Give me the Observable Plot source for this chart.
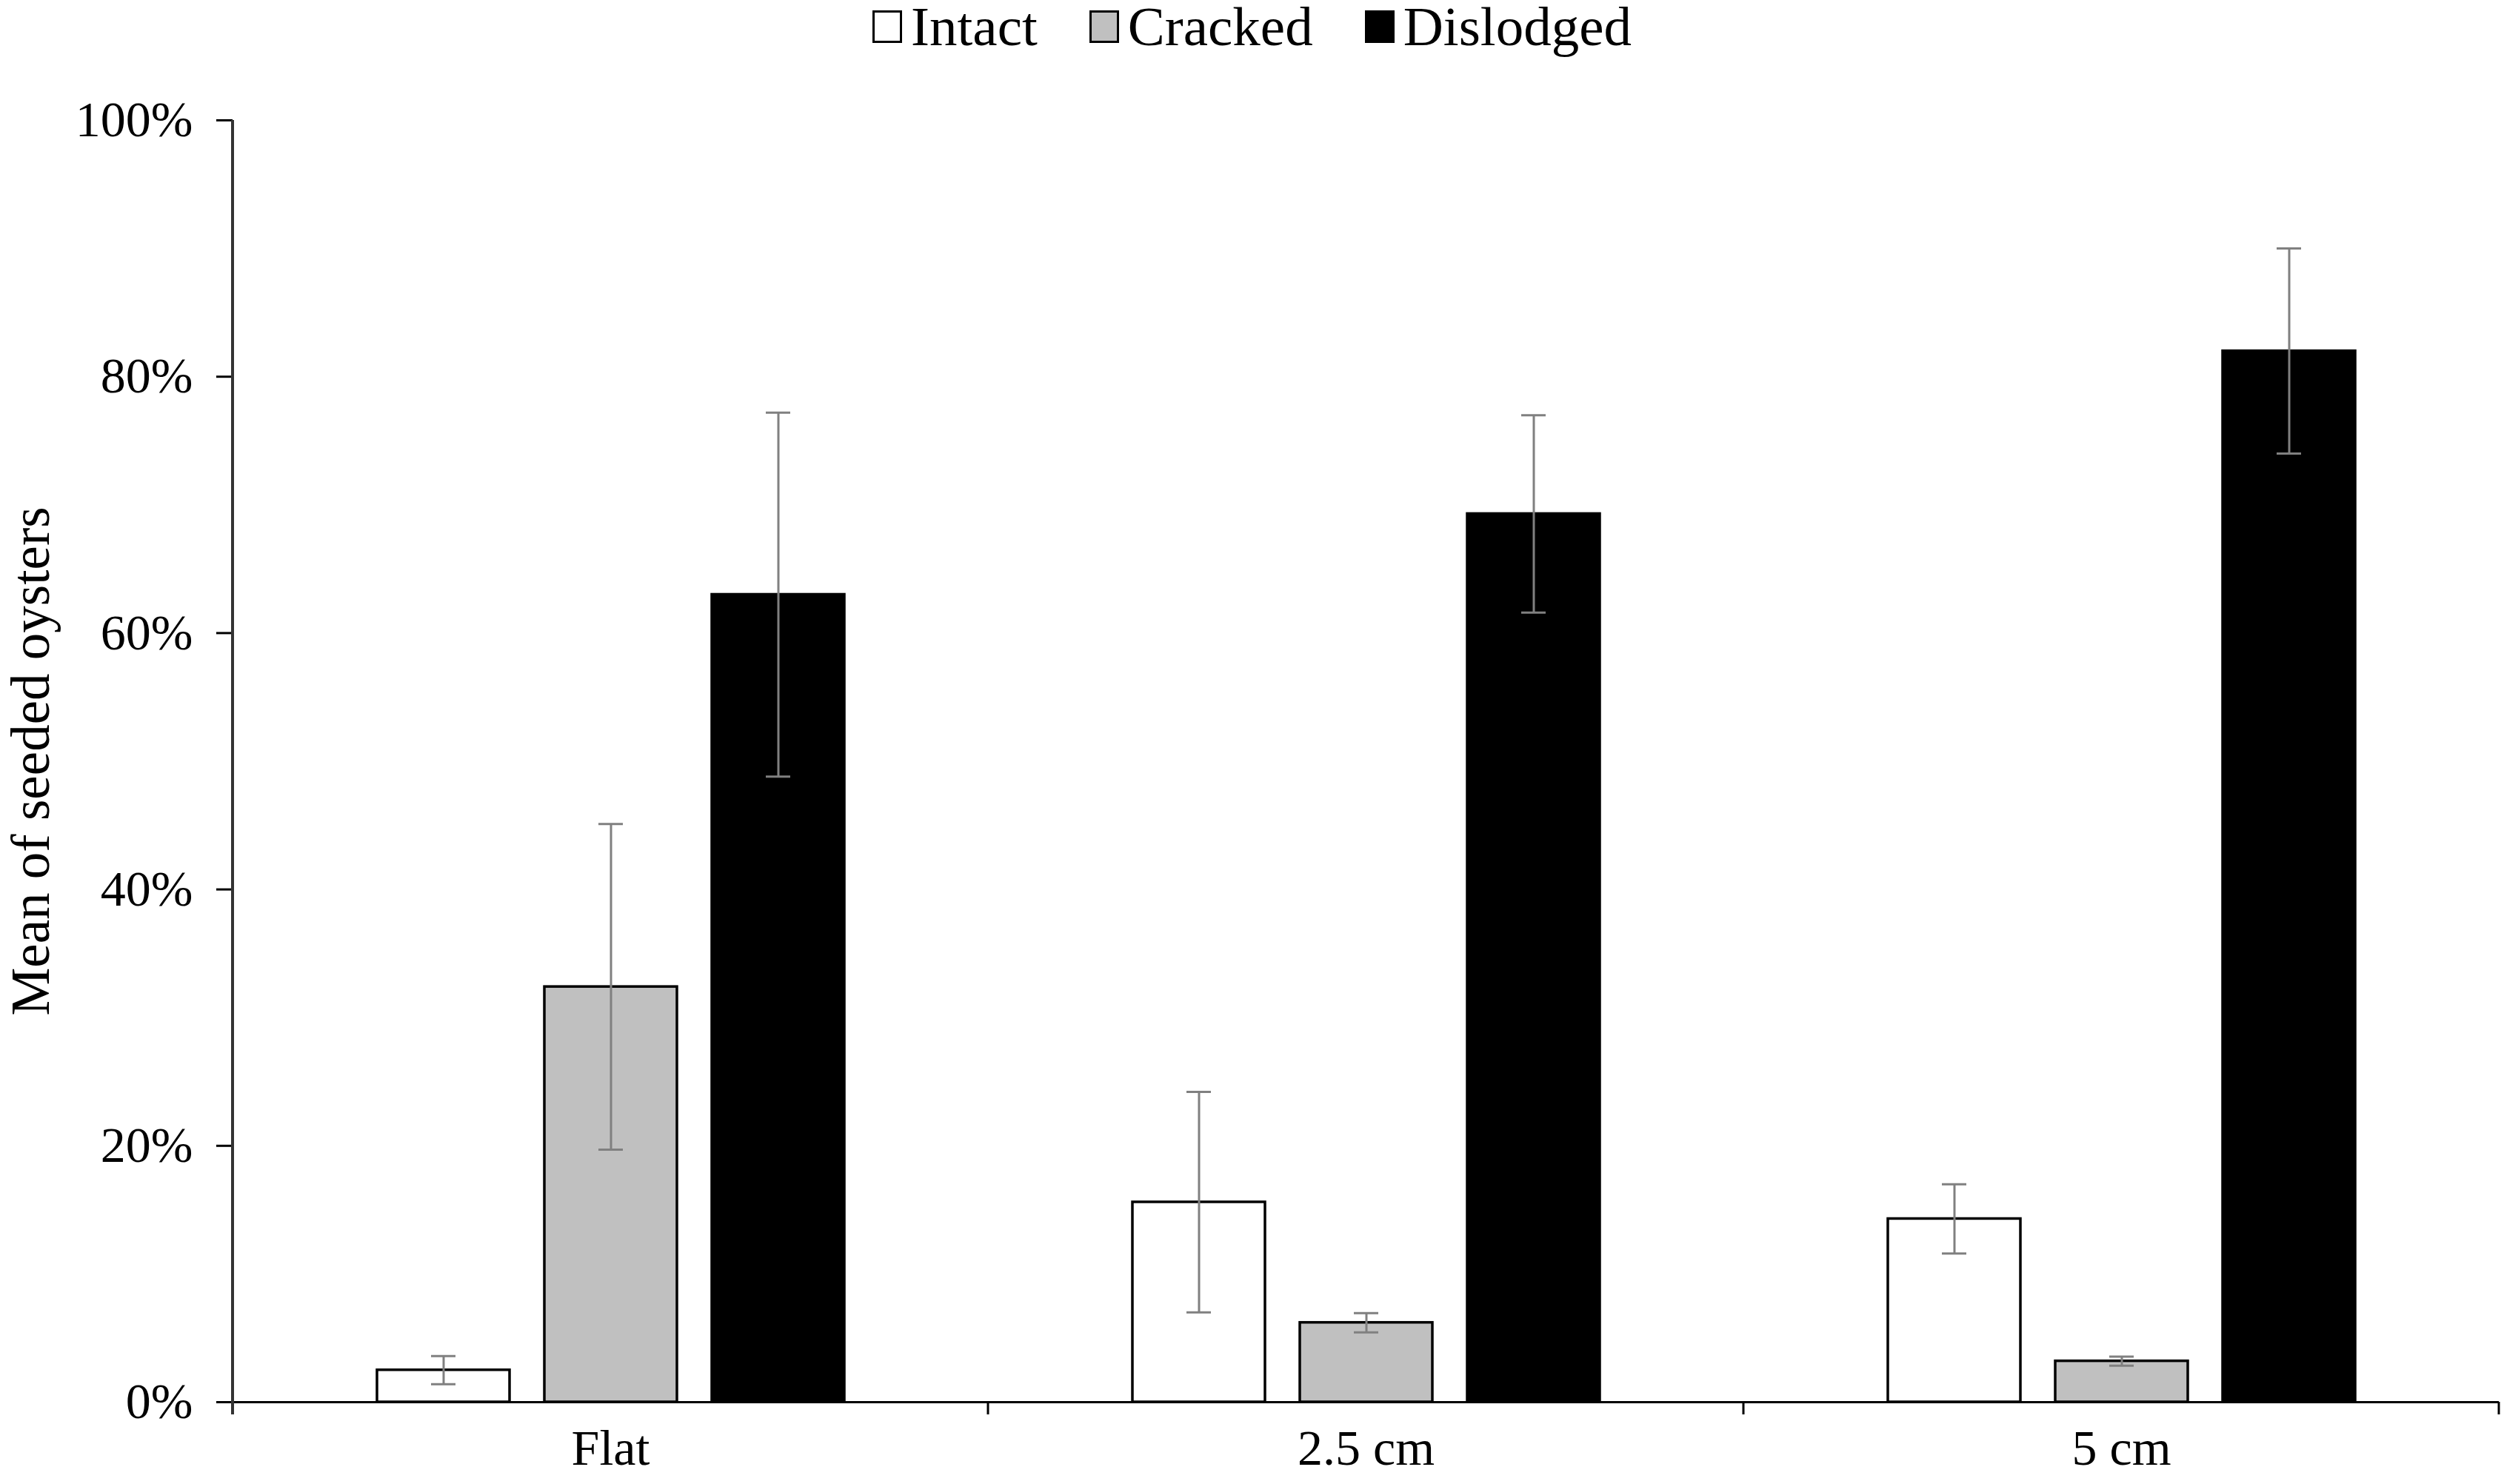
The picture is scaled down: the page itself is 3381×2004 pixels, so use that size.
<!DOCTYPE html>
<html><head><meta charset="utf-8">
<script src="https://cdn.jsdelivr.net/npm/d3@7"></script>
<script src="https://cdn.jsdelivr.net/npm/@observablehq/plot@0.6"></script>
<style>
body{margin:0;background:#fff;font-family:"Liberation Serif","Times New Roman",serif;}
#legend{height:80px;display:flex;justify-content:center;align-items:flex-start;font-size:75px;line-height:72px;}
.item{display:flex;align-items:center;}
.item + .item{margin-left:70px;}
.sw{width:34px;height:38px;border:3px solid #000;margin-right:12px;box-sizing:content-box;}
</style></head><body>
<div id="legend"></div>
<div id="chart"></div>
<script>
const categories = ["Flat", "2.5 cm", "5 cm"];
const series = ["Intact", "Cracked", "Dislodged"];
const seriesFill = ["#ffffff", "#c0c0c0", "#000000"];
const intactMean = [2.5, 15.6, 14.3];
const crackedMean = [32.4, 6.2, 3.2];
const dislodgedMean = [63.0, 69.3, 82.0];
const intactErr = [1.1, 8.6, 2.7];
const crackedErr = [12.7, 0.75, 0.35];
const dislodgedErr = [14.2, 7.7, 8.0];
const yTicks = [0, 20, 40, 60, 80, 100];

const means = [intactMean, crackedMean, dislodgedMean];
const errs = [intactErr, crackedErr, dislodgedErr];
const rows = [];
categories.forEach((c, i) => series.forEach((s, j) => rows.push({category: c, series: s, mean: means[j][i], err: errs[j][i]})));

// legend
const lg = document.getElementById("legend");
series.forEach((s, j) => {
  const it = document.createElement("div"); it.className = "item";
  const sw = document.createElement("div"); sw.className = "sw"; sw.style.background = seriesFill[j];
  const tx = document.createElement("span"); tx.textContent = s;
  it.appendChild(sw); it.appendChild(tx); lg.appendChild(it);
});

const chart = Plot.plot({
  width: 3381, height: 1924,
  marginLeft: 313, marginRight: 7, marginTop: 82, marginBottom: 111,
  style: {fontFamily: "Liberation Serif, Times New Roman, serif", fontSize: "68px", color: "black", background: "white"},
  fx: {domain: categories, padding: 0, label: null},
  x: {domain: series, paddingInner: 0.21, paddingOuter: 0.857, axis: null},
  y: {domain: [0, 100]},
  color: {domain: series, range: seriesFill},
  marks: [
    Plot.barY(rows, {fx: "category", x: "series", y: "mean", fill: "series", stroke: "black", strokeWidth: 3.5}),
    Plot.ruleX(rows, {fx: "category", x: "series", y1: d => d.mean - d.err, y2: d => d.mean + d.err, stroke: "#808080", strokeWidth: 3}),
    Plot.tickY(rows, {fx: "category", x: "series", y: d => d.mean - d.err, stroke: "#808080", strokeWidth: 3, insetLeft: 73, insetRight: 73}),
    Plot.tickY(rows, {fx: "category", x: "series", y: d => d.mean + d.err, stroke: "#808080", strokeWidth: 3, insetLeft: 73, insetRight: 73}),
    Plot.ruleY([0], {stroke: "black", strokeWidth: 3}),
    Plot.axisY({ticks: yTicks, tickFormat: d => d + "%", tickSize: 22, tickPadding: 32, strokeWidth: 3, label: null, fontSize: 68}),
    Plot.axisY({ticks: [], label: "Mean of seeded oysters", labelAnchor: "center", labelArrow: "none", labelOffset: 300, fontSize: 73}),
    Plot.axisFx({anchor: "bottom", tickSize: 0, tickPadding: 36, label: null, fontSize: 68})
  ]
});
document.getElementById("chart").appendChild(chart);

// axis line and category boundary ticks, placed from the plot's own scales
const fx = chart.scale("fx"), y = chart.scale("y");
const svg = d3.select(chart);
const y0 = y.apply(0);
svg.append("line")
  .attr("x1", fx.apply(categories[0])).attr("x2", fx.apply(categories[0]))
  .attr("y1", y.apply(100)).attr("y2", y0 + 17)
  .attr("stroke", "#333").attr("stroke-width", 4);
categories.forEach(c => {
  const xe = fx.apply(c) + fx.bandwidth;
  svg.append("line").attr("x1", xe).attr("x2", xe).attr("y1", y0).attr("y2", y0 + 17)
    .attr("stroke", "black").attr("stroke-width", 3);
});
</script>
</body></html>
